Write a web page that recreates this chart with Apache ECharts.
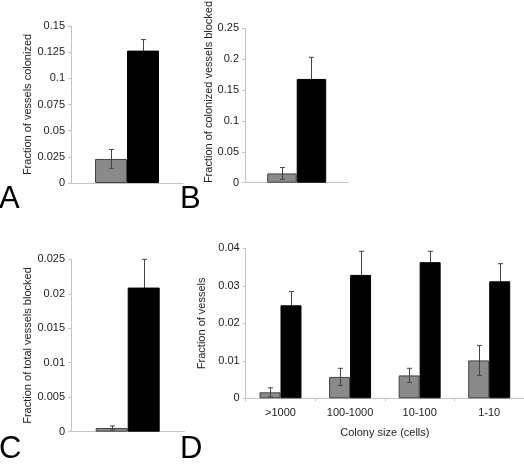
<!DOCTYPE html>
<html><head><meta charset="utf-8">
<script src="https://cdn.jsdelivr.net/npm/echarts@6/dist/echarts.min.js"></script>
<style>html,body{margin:0;padding:0;background:#fff}#c{width:524px;height:464px}</style>
</head><body><div id="c"></div>
<script>
// Panel A
const aGray = [0.023], aGrayErr = [0.009];
const aBlack = [0.1265], aBlackErr = [0.0105];
// Panel B
const bGray = [0.015], bGrayErr = [0.0095];
const bBlack = [0.168], bBlackErr = [0.035];
// Panel C
const cGray = [0.00054], cGrayErr = [0.0003];
const cBlack = [0.0209], cBlackErr = [0.0041];
// Panel D
const dCategories = ['>1000', '100-1000', '10-100', '1-10'];
const dGray = [0.0016, 0.0057, 0.0061, 0.0101];
const dGrayErr = [0.0012, 0.0023, 0.0019, 0.0040];
const dBlack = [0.0248, 0.0329, 0.0363, 0.0312];
const dBlackErr = [0.0037, 0.0063, 0.0029, 0.0047];

const FONT = 'Liberation Sans';
const AX = '#c4c4c4';
const GRAYC = '#8a8a8a';

const panels = [
  {grid:{left:71, top:26, width:112, height:157}, max:0.15, interval:0.025, name:'Fraction of vessels colonized', nameGap:38, bw:32, cats:[''], g:aGray, ge:aGrayErr, k:aBlack, ke:aBlackErr},
  {grid:{left:245, top:28.3, width:103.4, height:154.4}, max:0.25, interval:0.05, name:'', nameGap:30, bw:29.5, cats:[''], g:bGray, ge:bGrayErr, k:bBlack, ke:bBlackErr},
  {grid:{left:71, top:259.3, width:113.4, height:172.4}, max:0.025, interval:0.005, name:'Fraction of total vessels blocked', nameGap:38, bw:32, cats:[''], g:cGray, ge:cGrayErr, k:cBlack, ke:cBlackErr},
  {grid:{left:245.7, top:248.3, width:289.3, height:150}, max:0.04, interval:0.01, name:'Fraction of vessels', nameGap:26, bw:21, cats:dCategories, g:dGray, ge:dGrayErr, k:dBlack, ke:dBlackErr, xname:'Colony size (cells)'}
];

function errSeries(idx, vals, errs, offset, z){
  return {
    type:'custom', xAxisIndex:idx, yAxisIndex:idx, z:z, silent:true,
    data: vals.map((v,i)=>[i, v, errs[i]]),
    renderItem: function(params, api){
      const i = api.value(0), v = api.value(1), e = api.value(2);
      const top = api.coord([i, v+e]);
      const bot = api.coord([i, v-e]);
      const x = Math.round(top[0] + offset) + 0.5;
      const st = {stroke:'#444', lineWidth:1};
      return {type:'group', children:[
        {type:'line', shape:{x1:x, y1:top[1], x2:x, y2:bot[1]}, style:st},
        {type:'line', shape:{x1:x-2.5, y1:top[1], x2:x+2.5, y2:top[1]}, style:st},
        {type:'line', shape:{x1:x-2.5, y1:bot[1], x2:x+2.5, y2:bot[1]}, style:st}
      ]};
    }
  };
}

const grid=[], xAxis=[], yAxis=[], series=[];
panels.forEach((p, idx)=>{
  grid.push(p.grid);
  xAxis.push({
    type:'category', gridIndex:idx, data:p.cats,
    axisLine:{lineStyle:{color:AX}},
    axisTick:{show: idx===3, length:3, lineStyle:{color:AX}},
    axisLabel:{show: idx===3, fontFamily:FONT, fontSize:11, color:'#222', margin:9},
    name: p.xname || '', nameLocation:'middle', nameGap:29,
    nameTextStyle:{fontFamily:FONT, fontSize:11, color:'#222'}
  });
  yAxis.push({
    type:'value', gridIndex:idx, min:0, max:p.max, interval:p.interval,
    axisLine:{show:true, lineStyle:{color:AX}},
    axisTick:{show:true, length:3, lineStyle:{color:AX}},
    splitLine:{show:false},
    axisLabel:{fontFamily:FONT, fontSize:11, color:'#222', margin:6},
    name:p.name, nameLocation:'middle', nameGap:p.nameGap,
    nameTextStyle:{fontFamily:FONT, fontSize:11, color:'#222'}
  });
  series.push({type:'bar', xAxisIndex:idx, yAxisIndex:idx, data:p.g, barWidth:p.bw, barGap:'0%', z:2,
    itemStyle:{color:GRAYC, borderColor:'#444', borderWidth:1}, silent:true});
  series.push({type:'bar', xAxisIndex:idx, yAxisIndex:idx, data:p.k, barWidth:p.bw, barGap:'0%', z:2,
    itemStyle:{color:'#000', borderColor:'#000', borderWidth:1}, silent:true});
  series.push(errSeries(idx, p.g, p.ge, -p.bw/2, 3));
  series.push(errSeries(idx, p.k, p.ke, p.bw/2, 1));
});

const letterStyle = (t)=>({text:t, font:'31px "Liberation Sans"', fill:'#000', textVerticalAlign:'bottom'});
const chart = echarts.init(document.getElementById('c'), null, {renderer:'canvas'});
chart.setOption({
  animation:false,
  grid, xAxis, yAxis, series,
  graphic:[
    {type:'text', left:-1, top:184, style:letterStyle('A')},
    {type:'text', left:180, top:184, style:letterStyle('B')},
    {type:'text', left:-1, top:434, style:letterStyle('C')},
    {type:'text', left:180, top:434, style:letterStyle('D')},
    {type:'text', x:209, y:92, rotation:Math.PI/2, style:{text:'Fraction of colonized vessels blocked', font:'11px "Liberation Sans"', fill:'#222', textAlign:'center', textVerticalAlign:'middle'}}
  ]
});
</script></body></html>
